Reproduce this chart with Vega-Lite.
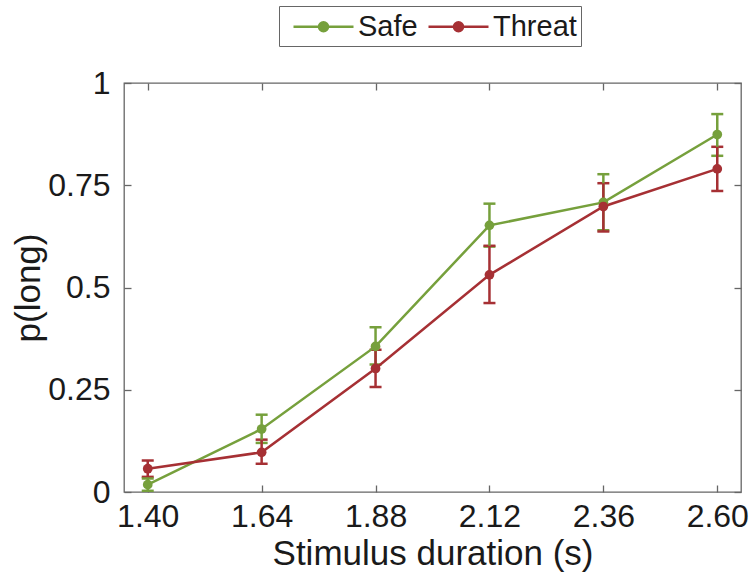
{
  "$schema": "https://vega.github.io/schema/vega-lite/v6.json",
  "autosize": {"type": "none"},
  "width": 617,
  "height": 409,
  "padding": {"left": 124, "top": 83, "right": 9, "bottom": 82},
  "background": "white",
  "config": {
    "font": "Liberation Sans",
    "view": {"stroke": "#666666", "strokeWidth": 1.3},
    "axis": {"grid": false, "domain": false, "tickColor": "#666666", "tickSize": -7, "tickWidth": 1.3, "labelColor": "#1a1a1a", "titleColor": "#1a1a1a", "labelFontSize": 32, "titleFontSize": 35, "titleFontWeight": "normal"}
  },
  "data": {
    "values": [
      {"dur": 1.40, "group": "Safe", "p": 0.018, "lo": 0.003, "hi": 0.033},
      {"dur": 1.64, "group": "Safe", "p": 0.154, "lo": 0.120, "hi": 0.189},
      {"dur": 1.88, "group": "Safe", "p": 0.356, "lo": 0.312, "hi": 0.403},
      {"dur": 2.12, "group": "Safe", "p": 0.652, "lo": 0.600, "hi": 0.705},
      {"dur": 2.36, "group": "Safe", "p": 0.708, "lo": 0.640, "hi": 0.777},
      {"dur": 2.60, "group": "Safe", "p": 0.874, "lo": 0.822, "hi": 0.924},
      {"dur": 1.40, "group": "Threat", "p": 0.057, "lo": 0.037, "hi": 0.077},
      {"dur": 1.64, "group": "Threat", "p": 0.097, "lo": 0.069, "hi": 0.128},
      {"dur": 1.88, "group": "Threat", "p": 0.302, "lo": 0.257, "hi": 0.348},
      {"dur": 2.12, "group": "Threat", "p": 0.531, "lo": 0.462, "hi": 0.602},
      {"dur": 2.36, "group": "Threat", "p": 0.698, "lo": 0.637, "hi": 0.755},
      {"dur": 2.60, "group": "Threat", "p": 0.790, "lo": 0.736, "hi": 0.844}
    ]
  },
  "resolve": {"axis": {"x": "independent", "y": "independent"}},
  "layer": [
    {
      "mark": {"type": "errorbar", "ticks": {"size": 12, "thickness": 2.5, "opacity": 1}, "rule": {"opacity": 1}, "thickness": 2.5},
      "encoding": {
        "x": {"field": "dur", "type": "quantitative", "scale": {"domain": [1.35, 2.65], "nice": false, "zero": false},
              "axis": {"orient": "top", "labels": false, "title": null, "values": [1.40, 1.64, 1.88, 2.12, 2.36, 2.60]}},
        "y": {"field": "lo", "type": "quantitative", "scale": {"domain": [0, 1], "nice": false},
              "axis": {"orient": "right", "labels": false, "title": null, "values": [0, 0.25, 0.5, 0.75, 1]}},
        "y2": {"field": "hi"},
        "color": {"field": "group", "type": "nominal", "title": null,
                  "scale": {"domain": ["Safe", "Threat"], "range": ["#76a03c", "#a63034"]}}
      }
    },
    {
      "mark": {"type": "line", "strokeWidth": 2.5, "point": {"filled": true, "size": 95, "opacity": 1}},
      "encoding": {
        "x": {"field": "dur", "type": "quantitative", "scale": {"domain": [1.35, 2.65], "nice": false, "zero": false},
              "axis": {"orient": "bottom", "title": "Stimulus duration (s)", "values": [1.40, 1.64, 1.88, 2.12, 2.36, 2.60], "format": ".2f", "labelPadding": 16, "titlePadding": 4}},
        "y": {"field": "p", "type": "quantitative", "scale": {"domain": [0, 1], "nice": false},
              "axis": {"orient": "left", "title": "p(long)", "values": [0, 0.25, 0.5, 0.75, 1], "labelExpr": "'' + datum.value", "labelPadding": 21, "titlePadding": 1, "titleFontSize": 35}},
        "color": {"field": "group", "type": "nominal", "title": null,
                  "scale": {"domain": ["Safe", "Threat"], "range": ["#76a03c", "#a63034"]},
                  "legend": {"orient": "none", "legendX": 155, "legendY": -77, "direction": "horizontal",
                             "strokeColor": "#666666", "padding": 4, "labelFontSize": 29, "labelColor": "#1a1a1a",
                             "symbolType": "M-2,0L2,0M-0.3,0A0.3,0.3,0,1,1,0.3,0A0.3,0.3,0,1,1,-0.3,0Z",
                             "symbolSize": 900, "symbolStrokeWidth": 2.5, "symbolOffset": 24, "columnPadding": -10, "labelOffset": 18,
                             "encode": {"symbols": {"update": {"fill": {"scale": "color", "field": "value"}, "stroke": {"scale": "color", "field": "value"}, "strokeWidth": {"value": 2.5}, "opacity": {"value": 1}}}}}}
      }
    }
  ]
}
